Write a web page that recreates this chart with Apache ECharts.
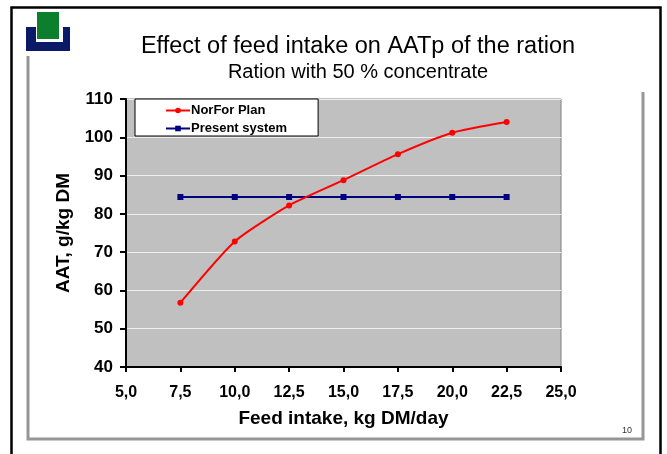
<!DOCTYPE html>
<html>
<head>
<meta charset="utf-8">
<style>
    html,body{margin:0;padding:0;background:#fff}
    #chart{width:667px;height:454px}
</style>
<script src="https://cdn.jsdelivr.net/npm/echarts@6/dist/echarts.min.js"></script>
</head>
<body>
<div id="chart"></div>
<script>
    var feedIntake = [7.5, 10, 12.5, 15, 17.5, 20, 22.5];
    var norForPlan = [56.8, 72.8, 82.2, 88.8, 95.6, 101.2, 104];
    var presentSystem = [84.4, 84.4, 84.4, 84.4, 84.4, 84.4, 84.4];

    function pairs(values){
        return values.map(function(v, i){ return [feedIntake[i], v]; });
    }
    var font = 'Liberation Sans';
    var chart = echarts.init(document.getElementById('chart'), null, {renderer:'canvas'});
    chart.setOption({
        animation:false,
        backgroundColor:'#fff',
        textStyle:{fontFamily:font},
        title:[
            {text:'Effect of feed intake on AATp of the ration',left:353,top:30,textAlign:'center',
                textStyle:{fontSize:23.5,fontWeight:'normal',color:'#000',fontFamily:font}},
            {text:'Ration with 50 % concentrate',left:353,top:57,textAlign:'center',
                textStyle:{fontSize:20,fontWeight:'normal',color:'#000',fontFamily:font}},
            {text:'10',left:617,top:421,textStyle:{fontSize:9,fontWeight:'normal',color:'#333',fontFamily:font}}
        ],
        legend:{
            left:135,top:99,orient:'vertical',itemGap:5,padding:[5,31,1,30],
            itemWidth:24,itemHeight:7,
            backgroundColor:'#fff',borderColor:'#000',borderWidth:1,
            textStyle:{fontSize:13,fontWeight:'bold',color:'#000',fontFamily:font,padding:[0,0,0,-4]},
            data:['NorFor Plan','Present system']
        },
        grid:{left:126,right:106,top:99,bottom:87,backgroundColor:'#c0c0c0',show:true,borderColor:'#808080',borderWidth:1},
        xAxis:{
            type:'value',min:5,max:25,interval:2.5,
            name:'Feed intake, kg DM/day',nameLocation:'middle',nameGap:42,
            nameTextStyle:{fontSize:19,fontWeight:'bold',color:'#000',fontFamily:font},
            axisLine:{onZero:false,lineStyle:{color:'#000',width:2}},
            axisTick:{length:5,inside:false,lineStyle:{color:'#000',width:2}},
            axisLabel:{fontSize:16,fontWeight:'bold',color:'#000',margin:18,fontFamily:font,
                formatter:function(v){ return v.toFixed(1).replace('.',','); }},
            splitLine:{show:false}
        },
        yAxis:{
            type:'value',min:40,max:110,interval:10,
            name:'AAT, g/kg DM',nameLocation:'middle',nameGap:50,
            nameTextStyle:{fontSize:19,fontWeight:'bold',color:'#000',fontFamily:font},
            axisLine:{onZero:false,lineStyle:{color:'#000',width:2}},
            axisTick:{length:6,lineStyle:{color:'#000',width:2}},
            axisLabel:{fontSize:17,fontWeight:'bold',color:'#000',margin:13,fontFamily:font},
            splitLine:{show:true,lineStyle:{color:'#eeeeee',width:1}}
        },
        series:[
            {name:'NorFor Plan',type:'line',smooth:0.2,data:pairs(norForPlan),
                symbol:'circle',symbolSize:6,z:3,
                lineStyle:{color:'#ff0000',width:2},itemStyle:{color:'#ff0000'}},
            {name:'Present system',type:'line',data:pairs(presentSystem),
                symbol:'rect',symbolSize:6,z:2,
                lineStyle:{color:'#000080',width:2},itemStyle:{color:'#000080'}}
        ],
        graphic:[
            // slide frame
            {type:'polyline',silent:true,shape:{points:[[11.5,460],[11.5,7.5],[660.5,7.5],[660.5,460]]},
                style:{fill:null,stroke:'#000',lineWidth:2.5}},
            {type:'polyline',silent:true,shape:{points:[[28,56],[28,439],[643,439],[643,92]]},
                style:{fill:null,stroke:'#969696',lineWidth:3}},
            // logo
            {type:'rect',silent:true,shape:{x:37,y:12,width:22,height:27},style:{fill:'#0c7f2c'}},
            {type:'polygon',silent:true,shape:{points:[[26,27],[36,27],[36,42],[63,42],[63,27],[70,27],[70,51],[26,51]]},
                style:{fill:'#0a1a66'}}
        ]
    });
</script>
</body>
</html>
